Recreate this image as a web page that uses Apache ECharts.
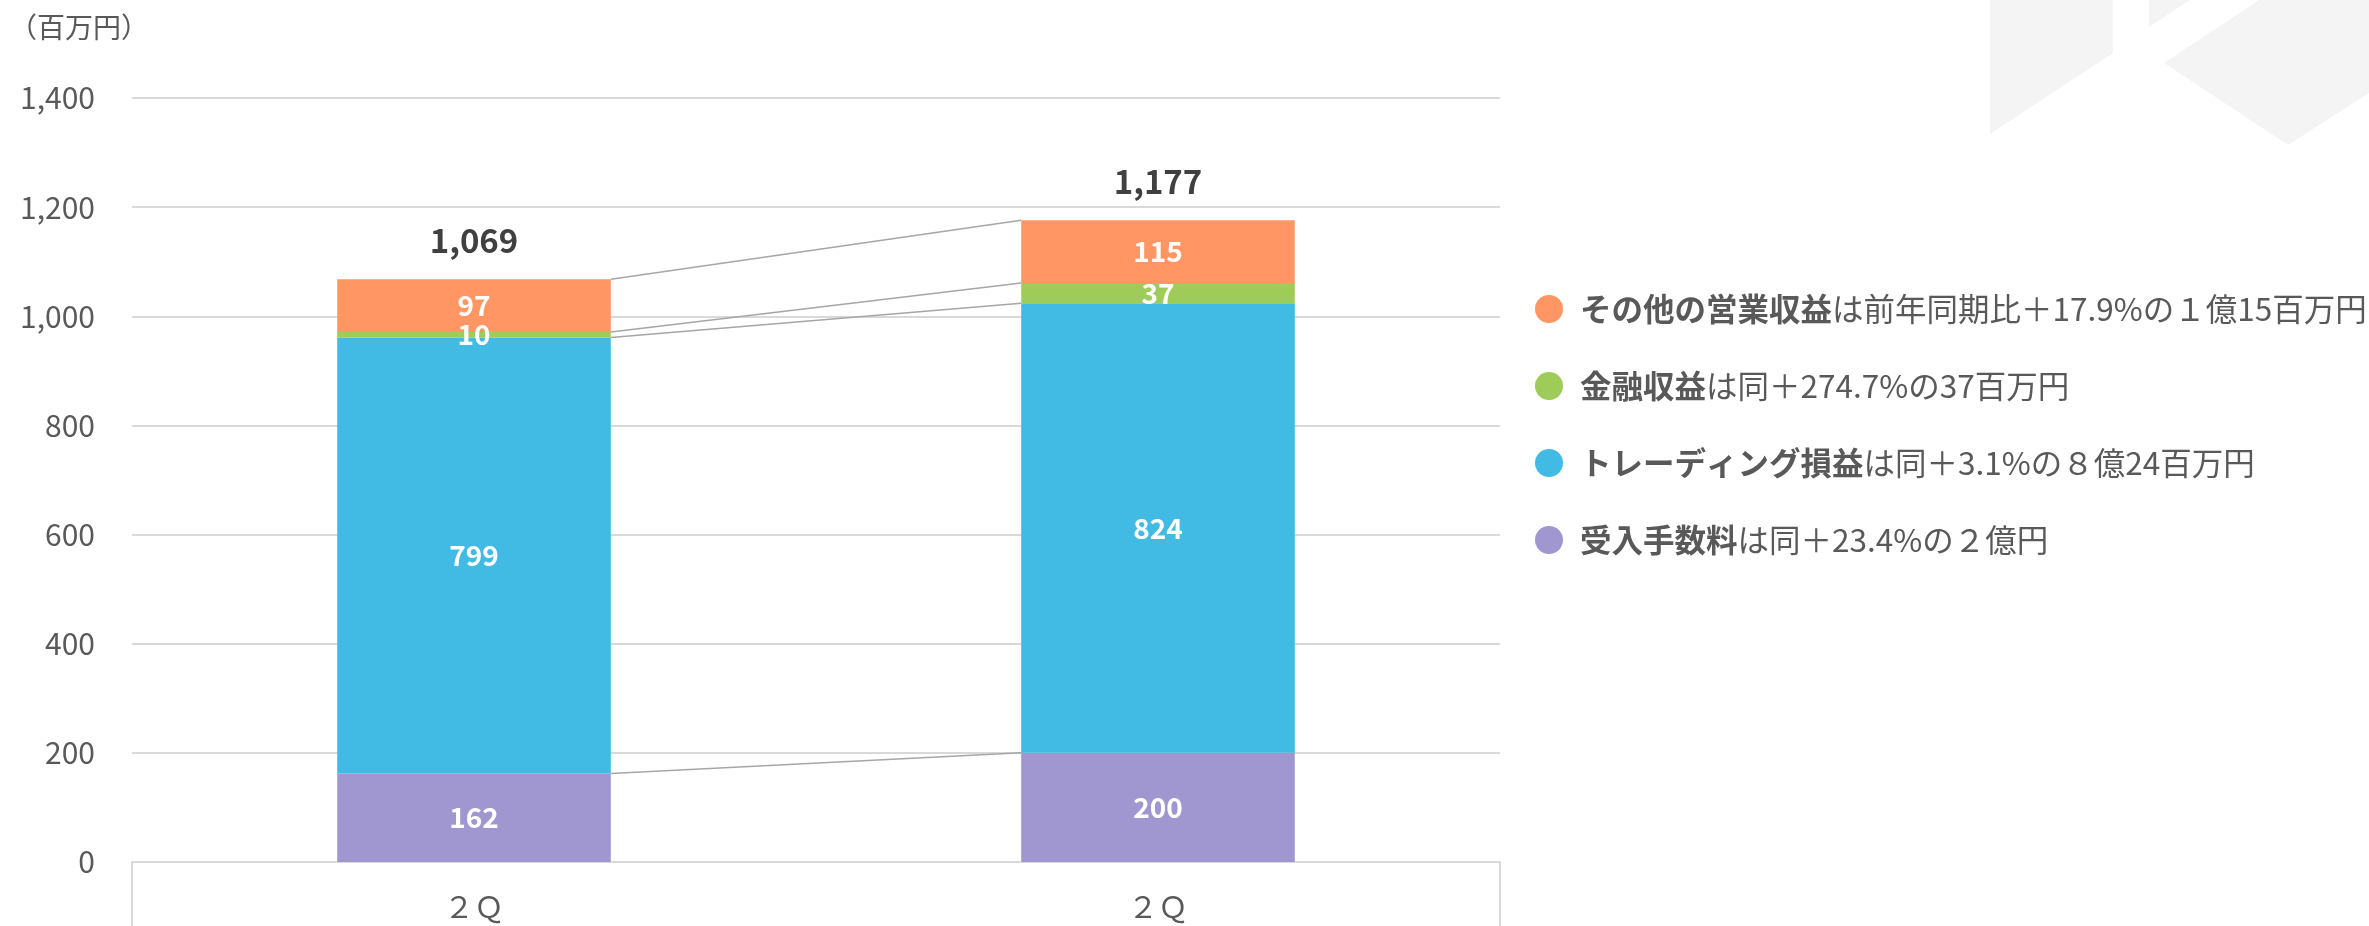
<!DOCTYPE html>
<html>
<head>
<meta charset="utf-8">
<script src="https://cdn.jsdelivr.net/npm/echarts@6/dist/echarts.min.js"></script>
<style>
  html, body { margin: 0; padding: 0; background: #fff; }
  #chart { width: 2369px; height: 926px; }
</style>
</head>
<body>
<div id="chart"></div>
<script>
const categories = ['２Ｑ', '２Ｑ']
const feeIncome = [162, 200] // 受入手数料
const tradingIncome = [799, 824] // トレーディング損益
const financialIncome = [10, 37] // 金融収益
const otherIncome = [97, 115] // その他の営業収益
const totals = [1069, 1177]
const yMax = 1400
const yStep = 200

const legendNotes = {
  'その他の営業収益': 'は前年同期比＋17.9%の１億15百万円',
  '金融収益': 'は同＋274.7%の37百万円',
  'トレーディング損益': 'は同＋3.1%の８億24百万円',
  '受入手数料': 'は同＋23.4%の２億円'
}

const stackList = [
  { name: '受入手数料', data: feeIncome, color: '#A197D0' },
  { name: 'トレーディング損益', data: tradingIncome, color: '#41BBE3' },
  { name: '金融収益', data: financialIncome, color: '#9FCB59' },
  { name: 'その他の営業収益', data: otherIncome, color: '#FF9664' }
]

// 各系列の累積上端（前後の棒をつなぐ線用）
const running = [0, 0]
const connectors = stackList.map(s => {
  running[0] += s.data[0]
  running[1] += s.data[1]
  return [0, running[0], running[1]]
})

const font = 'Noto Sans CJK JP'
const myChart = echarts.init(document.getElementById('chart'))

const barSeries = stackList.map(s => ({
  name: s.name,
  type: 'bar',
  stack: 'total',
  barWidth: '40%',
  data: s.data,
  itemStyle: { color: s.color },
  label: {
    show: true,
    position: 'inside',
    color: '#fff',
    fontSize: 28,
    fontWeight: 'bold',
    fontFamily: font
  },
  emphasis: { disabled: true }
}))

const option = {
  animation: false,
  textStyle: { fontFamily: font },
  title: {
    text: '（百万円）',
    left: 4,
    top: 8,
    textStyle: { color: '#595959', fontSize: 28, fontWeight: 'normal', fontFamily: font }
  },
  graphic: [
    { type: 'polygon', silent: true, z: -1, shape: { points: [[1990, 0], [2113, 0], [2113, 53], [1990, 134]] }, style: { fill: '#f4f4f4' } },
    { type: 'polygon', silent: true, z: -1, shape: { points: [[2149, 0], [2190, 0], [2149, 27]] }, style: { fill: '#f4f4f4' } },
    { type: 'polygon', silent: true, z: -1, shape: { points: [[2259, 0], [2369, 0], [2369, 93], [2288, 145], [2164, 63]] }, style: { fill: '#f4f4f4' } }
  ],
  legend: {
    orient: 'vertical',
    left: 1530,
    top: 284,
    icon: 'circle',
    itemWidth: 28,
    itemHeight: 28,
    itemGap: 37,
    selectedMode: false,
    data: ['その他の営業収益', '金融収益', 'トレーディング損益', '受入手数料'],
    formatter: name => `{b|${name}}{n|${legendNotes[name]}}`,
    textStyle: {
      fontSize: 31.5,
      lineHeight: 40,
      color: '#595959',
      rich: {
        b: { fontSize: 31.5, lineHeight: 40, fontWeight: 'bold', color: '#595959', fontFamily: font, padding: [0, 0, 0, 12] },
        n: { fontSize: 31.5, lineHeight: 40, color: '#595959', fontFamily: font }
      }
    }
  },
  grid: {
    left: 132,
    right: 869,
    top: 98,
    bottom: 64
  },
  xAxis: [
    {
      type: 'category',
      data: categories,
      axisTick: { show: false },
      axisLine: { lineStyle: { color: '#d9d9d9', width: 2 } },
      axisLabel: { color: '#595959', fontSize: 30, margin: 30, fontFamily: font }
    },
    {
      // 下部の枠線（左右の縦線）
      type: 'value',
      position: 'bottom',
      min: 0,
      max: 1,
      interval: 1,
      axisLine: { show: false },
      axisLabel: { show: false },
      splitLine: { show: false },
      axisTick: { show: true, length: 64, lineStyle: { color: '#d9d9d9', width: 2 } }
    }
  ],
  yAxis: {
    type: 'value',
    min: 0,
    max: yMax,
    interval: yStep,
    axisLine: { show: false },
    axisTick: { show: false },
    splitLine: { lineStyle: { color: '#d9d9d9', width: 2 } },
    axisLabel: {
      color: '#595959',
      fontSize: 30,
      margin: 37,
      fontFamily: font,
      formatter: v => v.toLocaleString('en-US')
    }
  },
  series: [
    ...barSeries,
    {
      name: '合計',
      type: 'bar',
      stack: 'total',
      barWidth: '40%',
      data: [0, 0],
      label: {
        show: true,
        position: 'top',
        distance: 22,
        color: '#404040',
        fontSize: 33,
        fontWeight: 'bold',
        fontFamily: font,
        formatter: p => totals[p.dataIndex].toLocaleString('en-US')
      },
      emphasis: { disabled: true }
    },
    {
      type: 'custom',
      silent: true,
      z: 3,
      data: connectors,
      renderItem: function (params, api) {
        const start = api.coord([0, api.value(1)])
        const end = api.coord([1, api.value(2)])
        const half = api.size([1, 0])[0] * 0.2
        return {
          type: 'line',
          shape: { x1: start[0] + half, y1: start[1], x2: end[0] - half, y2: end[1] },
          style: { stroke: '#a6a6a6', lineWidth: 1.5 }
        }
      }
    }
  ]
}

myChart.setOption(option)
</script>
</body>
</html>
